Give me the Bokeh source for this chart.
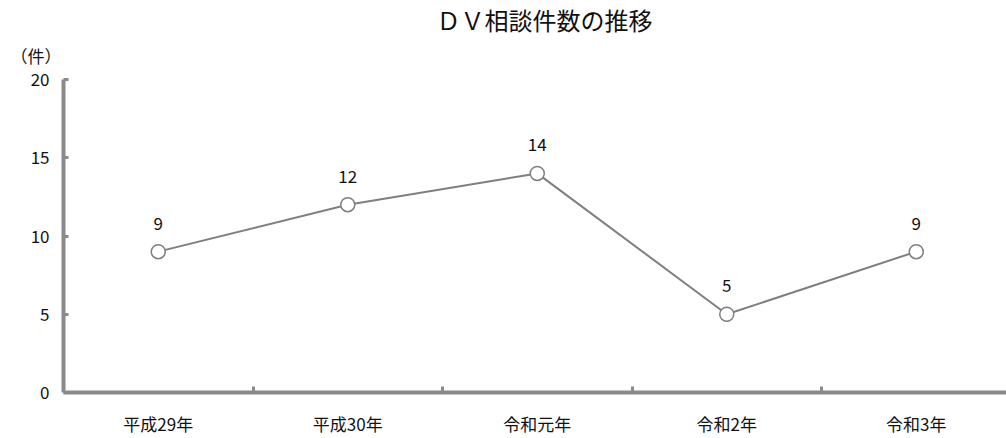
from bokeh.plotting import figure
from bokeh.models import ColumnDataSource, Range1d, FixedTicker, Title
from bokeh.core.properties import value
from bokeh.embed import file_html
from bokeh.resources import INLINE

categories = ["平成29年", "平成30年", "令和元年", "令和2年", "令和3年"]
counts = [9, 12, 14, 5, 9]
y_ticks = [0, 5, 10, 15, 20]
title_text = "ＤＶ相談件数の推移"
unit_text = "（件）"

FONT = "Noto Sans CJK JP"
GRAY = "#8a8a8a"
LINE = "#7f7f7f"

xs = [i + 0.5 for i in range(len(categories))]
boundaries = [i for i in range(1, len(categories))]

W, H = 1006, 438
left, top, bottom = 63, 79, 38
frame_w = W - left
cat_px = 189.5

p = figure(width=W, height=H, output_backend="svg", toolbar_location=None,
           x_range=Range1d(0, frame_w / cat_px), y_range=Range1d(0, 20),
           min_border_left=left, min_border_top=top, min_border_bottom=bottom,
           min_border_right=0, background_fill_color="white",
           border_fill_color="white")
p.outline_line_color = None
p.grid.visible = False

p.title.text = title_text
p.title.text_font = FONT
p.title.text_font_size = "24px"
p.title.text_font_style = "normal"
p.title.text_color = "#111111"
p.title.align = "left"
p.title.offset = 373
p.title.standoff = -14

unit = Title(text=unit_text, text_font=FONT, text_font_size="17px",
             text_font_style="normal", text_color="#111111", align="left",
             offset=-53, standoff=23)
p.add_layout(unit, "above")

# x axis
p.xaxis.ticker = FixedTicker(ticks=xs, minor_ticks=boundaries)
p.xaxis.major_label_overrides = {x: c for x, c in zip(xs, categories)}
p.xaxis.major_tick_in = 0
p.xaxis.major_tick_out = 0
p.xaxis.minor_tick_in = 6
p.xaxis.minor_tick_out = 0
p.xaxis.minor_tick_line_width = 3
p.xaxis.minor_tick_line_color = GRAY
p.xaxis.axis_line_color = GRAY
p.xaxis.axis_line_width = 4
p.xaxis.major_label_text_font = FONT
p.xaxis.major_label_text_font_size = "17px"
p.xaxis.major_label_text_color = "#111111"
p.xaxis.major_label_standoff = 18

# y axis
p.yaxis.ticker = FixedTicker(ticks=y_ticks, minor_ticks=[])
p.yaxis.major_tick_in = 5
p.yaxis.major_tick_out = 0
p.yaxis.major_tick_line_width = 3
p.yaxis.major_tick_line_color = GRAY
p.yaxis.minor_tick_line_color = None
p.yaxis.axis_line_color = GRAY
p.yaxis.axis_line_width = 4
p.yaxis.major_label_text_font = FONT
p.yaxis.major_label_text_font_size = "17px"
p.yaxis.major_label_text_color = "#111111"
p.yaxis.major_label_standoff = 14

src = ColumnDataSource(dict(x=xs, y=counts, t=[str(v) for v in counts]))
p.line("x", "y", source=src, line_color=LINE, line_width=2)
p.scatter("x", "y", source=src, size=14, fill_color="white",
          line_color=LINE, line_width=1.5)
p.text("x", "y", text="t", source=src, y_offset=-22, text_align="center",
       text_baseline="bottom", text_font=value(FONT), text_font_size="17px",
       text_color="#111111")

open("out.html", "w").write(file_html(p, INLINE))
